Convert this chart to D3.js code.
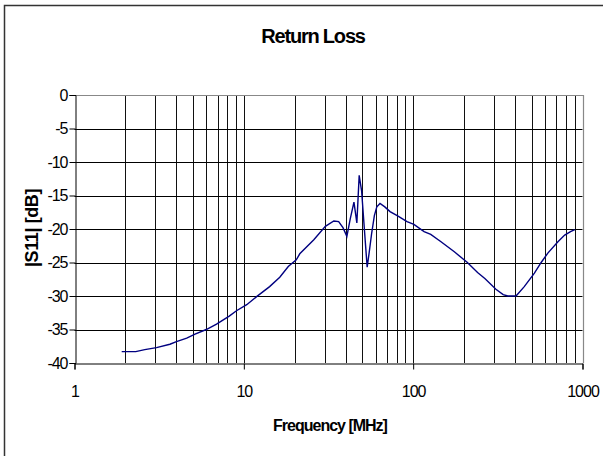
<!DOCTYPE html>
<html>
<head>
<meta charset="utf-8">
<title>Return Loss</title>
<script src="https://d3js.org/d3.v7.min.js"></script>
<style>
  body { margin: 0; background: #fff; }
  text { font-family: "Liberation Sans", Arial, sans-serif; }
</style>
</head>
<body>
<div id="home"></div>
<script>
// frequency in MHz and |S11| in dB
const freq = [1.9, 2.3, 2.6, 3.05, 3.66, 4.0, 4.6, 5.15, 6.0, 6.9, 8.2, 9.05, 10.4, 11.9, 14.2, 16.3, 18.3, 20.4, 21.4, 25.9,
              30.3, 34, 36.3, 38.5, 40.6, 42.5, 44.7, 46.5, 48, 49.6, 51.5, 53.5, 55, 56.9, 59, 61, 63.7, 68, 73, 80.5,
              92, 101, 116, 127, 146, 175, 209, 240, 265, 308, 340, 362, 405, 453, 520, 570, 624, 716, 785, 850, 900];
const s11 = [-38.3, -38.3, -38.0, -37.7, -37.2, -36.8, -36.3, -35.7, -35.0, -34.2, -33.0, -32.2, -31.3, -30.1, -28.6, -27.2, -25.6, -24.6, -23.7, -21.6,
             -19.6, -18.8, -18.9, -19.8, -21.1, -18.5, -16.0, -19.1, -12.0, -14.3, -20.0, -25.7, -23.5, -20.6, -18.0, -16.7, -16.2, -16.7, -17.4, -18.0,
             -18.9, -19.3, -20.4, -20.8, -21.9, -23.4, -25.0, -26.5, -27.4, -29.0, -29.8, -30.0, -30.0, -28.6, -26.6, -25.0, -23.6, -21.9, -20.9, -20.4, -20.1];
const yTicks = [0, -5, -10, -15, -20, -25, -30, -35, -40];
const xTicks = [1, 10, 100, 1000];

const w = 603, h = 456;
const pLeft = 74.5, pRight = 582.5, pTop = 95, pBottom = 363;

const svg = d3.select("#home").append("svg")
  .attr("width", w).attr("height", h);

// chart frame (only top and left show in the picture)
svg.append("path")
  .attr("d", "M4.5,456 L4.5,5.5 L603,5.5")
  .attr("fill", "none").attr("stroke", "#333").attr("stroke-width", 1.5);

const x = d3.scaleLog().domain([1, 1000]).range([pLeft, pRight]);
const y = d3.scaleLinear().domain([-40, 0]).range([pBottom, pTop]);

// minor vertical grid
let gridX = [];
for (let d = 1; d < 1000; d *= 10) {
  for (let k = 1; k <= 9; k++) gridX.push(d * k);
}
gridX = gridX.filter(v => v > 1);
svg.append("g").selectAll("line").data(gridX).enter().append("line")
  .attr("x1", d => Math.round(x(d)) + 0.5).attr("x2", d => Math.round(x(d)) + 0.5)
  .attr("y1", pTop).attr("y2", pBottom)
  .attr("stroke", "#111").attr("stroke-width", 1);

// horizontal grid
svg.append("g").selectAll("line").data(yTicks.filter(v => v > -40 && v < 0)).enter().append("line")
  .attr("x1", pLeft).attr("x2", pRight)
  .attr("y1", d => Math.round(y(d)) + 0.5).attr("y2", d => Math.round(y(d)) + 0.5)
  .attr("stroke", "#000").attr("stroke-width", 1);

// plot border top/right in grey
svg.append("path")
  .attr("d", `M${pLeft},${Math.round(pTop) + 0.5} L${Math.round(pRight) + 0.5},${Math.round(pTop) + 0.5} L${Math.round(pRight) + 0.5},${pBottom}`)
  .attr("fill", "none").attr("stroke", "#888").attr("stroke-width", 1.2);

const fmt = d => String(d);

// axes
const yAxis = d3.axisLeft(y).tickValues(yTicks).tickSize(6).tickPadding(2).tickFormat(fmt);
svg.append("g")
  .attr("transform", `translate(${Math.round(pLeft) + 0.5},0)`)
  .call(yAxis)
  .call(g => g.select(".domain").attr("stroke", "#000"))
  .call(g => g.selectAll("text").attr("font-size", 16).attr("letter-spacing", -1)
    .attr("font-family", "Liberation Sans, Arial, sans-serif").attr("fill", "#000"));

const xAxis = d3.axisBottom(x).tickValues(xTicks).tickSize(6).tickPadding(16).tickFormat(fmt);
svg.append("g")
  .attr("transform", `translate(0,${Math.round(pBottom) + 0.5})`)
  .call(xAxis)
  .call(g => g.select(".domain").attr("stroke", "#000"))
  .call(g => g.selectAll("text").attr("font-size", 16).attr("letter-spacing", -1)
    .attr("font-family", "Liberation Sans, Arial, sans-serif").attr("fill", "#000"));

// curve
const line = d3.line().x((d, i) => x(freq[i])).y(d => y(d));
svg.append("path")
  .datum(s11)
  .attr("d", line)
  .attr("fill", "none").attr("stroke", "#000080").attr("stroke-width", 1.4);

// titles
svg.append("text")
  .attr("x", 313).attr("y", 43)
  .attr("text-anchor", "middle")
  .attr("font-size", 20).attr("font-weight", "bold").attr("letter-spacing", -1.2)
  .text("Return Loss");

svg.append("text")
  .attr("x", 330).attr("y", 431)
  .attr("text-anchor", "middle")
  .attr("font-size", 16).attr("font-weight", "bold").attr("letter-spacing", -1)
  .text("Frequency [MHz]");

svg.append("text")
  .attr("transform", "translate(38,228) rotate(-90)")
  .attr("text-anchor", "middle")
  .attr("font-size", 18).attr("font-weight", "bold").attr("letter-spacing", -0.4)
  .text("|S11| [dB]");
</script>
</body>
</html>
